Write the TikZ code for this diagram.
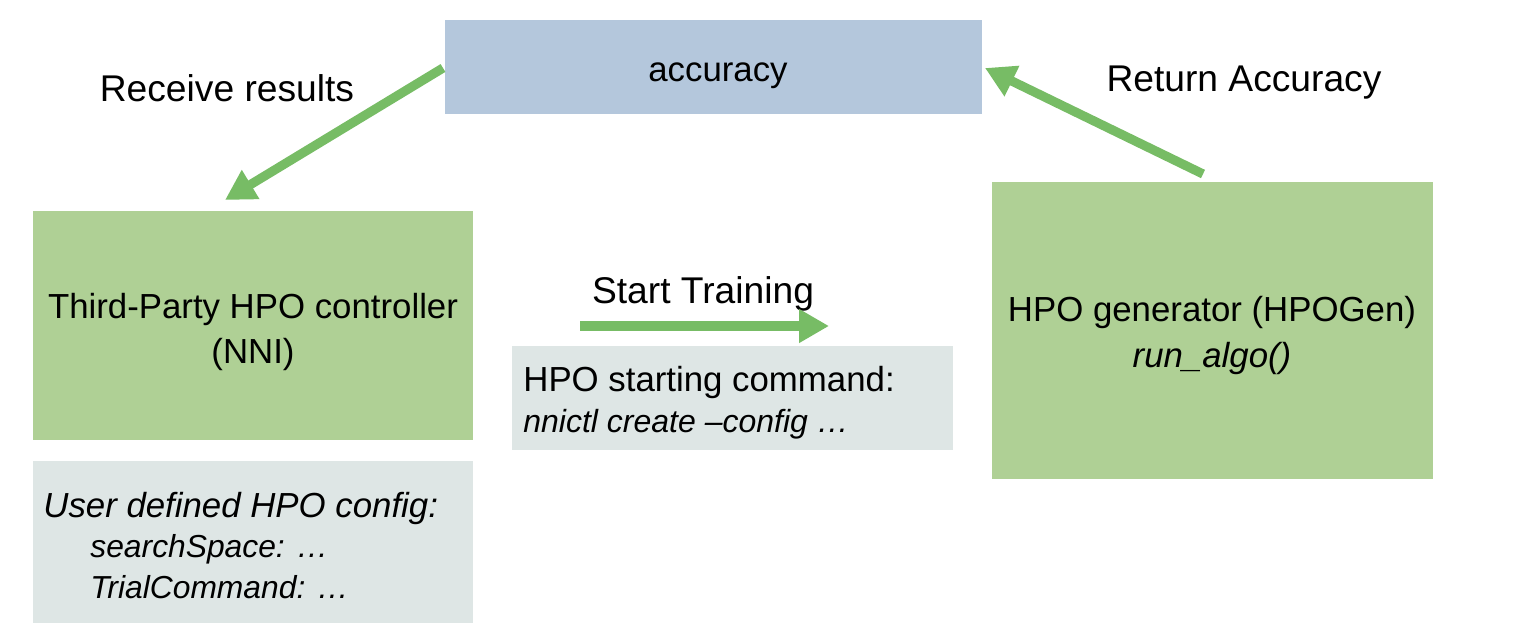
\documentclass[tikz,border=0pt]{standalone}
\usepackage{fontspec}
\setmainfont{Liberation Sans}
\usetikzlibrary{arrows.meta}
\definecolor{accblue}{RGB}{180,199,220}
\definecolor{boxgreen}{RGB}{175,208,149}
\definecolor{boxgray}{RGB}{222,230,229}
\definecolor{arrgreen}{RGB}{119,188,101}
\begin{document}
\begin{tikzpicture}[x=0.5pt,y=-0.5pt,
  box/.style={inner sep=0pt, outer sep=0pt, draw=none},
  bigtext/.style={font=\fontsize{17.4}{22.6}\selectfont},
  lbltext/.style={font=\fontsize{18.6}{22}\selectfont},
  lefttext/.style={anchor=west, inner sep=0pt},
  garrow/.style={draw=arrgreen, line width=4.6pt, -{Triangle[length=15pt,width=16pt]}}]
\useasboundingbox (0,0) rectangle (1515,638);
% boxes
\fill[accblue] (445,20) rectangle (982,114);
\node[box] (acc) at (713.5,67) [minimum width=268.5pt, minimum height=47pt] {};
\node[bigtext] (acct) at (718,76) {accuracy};
\fill[boxgreen] (33,211) rectangle (473,440);
\node[box] (ctrl) at (253,325.5) [minimum width=220pt, minimum height=114.5pt] {};
\node[bigtext, align=center] (ctrlt) at (253,332) {Third-Party HPO controller\\(NNI)};
\fill[boxgray] (33,461) rectangle (473,623);
\node[box] (cfg) at (253,542) [minimum width=220pt, minimum height=81pt] {};
\node[lefttext, font=\fontsize{17.4}{20}\selectfont\itshape] (cfg1) at (43,508) {User defined HPO config:};
\node[lefttext, font=\fontsize{15.9}{20}\selectfont\itshape] (cfg2) at (90,549) {searchSpace: …};
\node[lefttext, font=\fontsize{15.9}{20}\selectfont\itshape] (cfg3) at (90,587) {TrialCommand: …};
\fill[boxgray] (512,346) rectangle (953,450);
\node[box] (cmd) at (732.5,398) [minimum width=220.5pt, minimum height=52pt] {};
\node[lefttext, font=\fontsize{17.4}{20}\selectfont] (cmd1) at (523,382) {HPO starting command:};
\node[lefttext, font=\fontsize{16}{20}\selectfont\itshape] (cmd2) at (523,424) {nnictl create –config …};
\fill[boxgreen] (992,182) rectangle (1433,479);
\node[box] (gen) at (1212.5,330.5) [minimum width=220.5pt, minimum height=148.5pt] {};
\node[bigtext, align=center] (gent) at (1212,335.5) {HPO generator (HPOGen)\\\textit{run\_algo()}};
% labels
\node[lbltext] (l1) at (227,88) {Receive results};
\node[lbltext] (l2) at (1244,83) {Return Accuracy};
\node[lbltext] (l3) at (703,294) {Start Training};
% arrow ends
\coordinate (a1s) at (443,68);
\coordinate (a1e) at (225,200);
\coordinate (a2s) at (1203,174);
\coordinate (a2e) at (985,68);
\coordinate (a3s) at (580,326);
\coordinate (a3e) at (829,326);
\draw[garrow] (a1s) -- (a1e);
\draw[garrow] (a2s) -- (a2e);
\draw[garrow] (a3s) -- (a3e);
\end{tikzpicture}
\end{document}
